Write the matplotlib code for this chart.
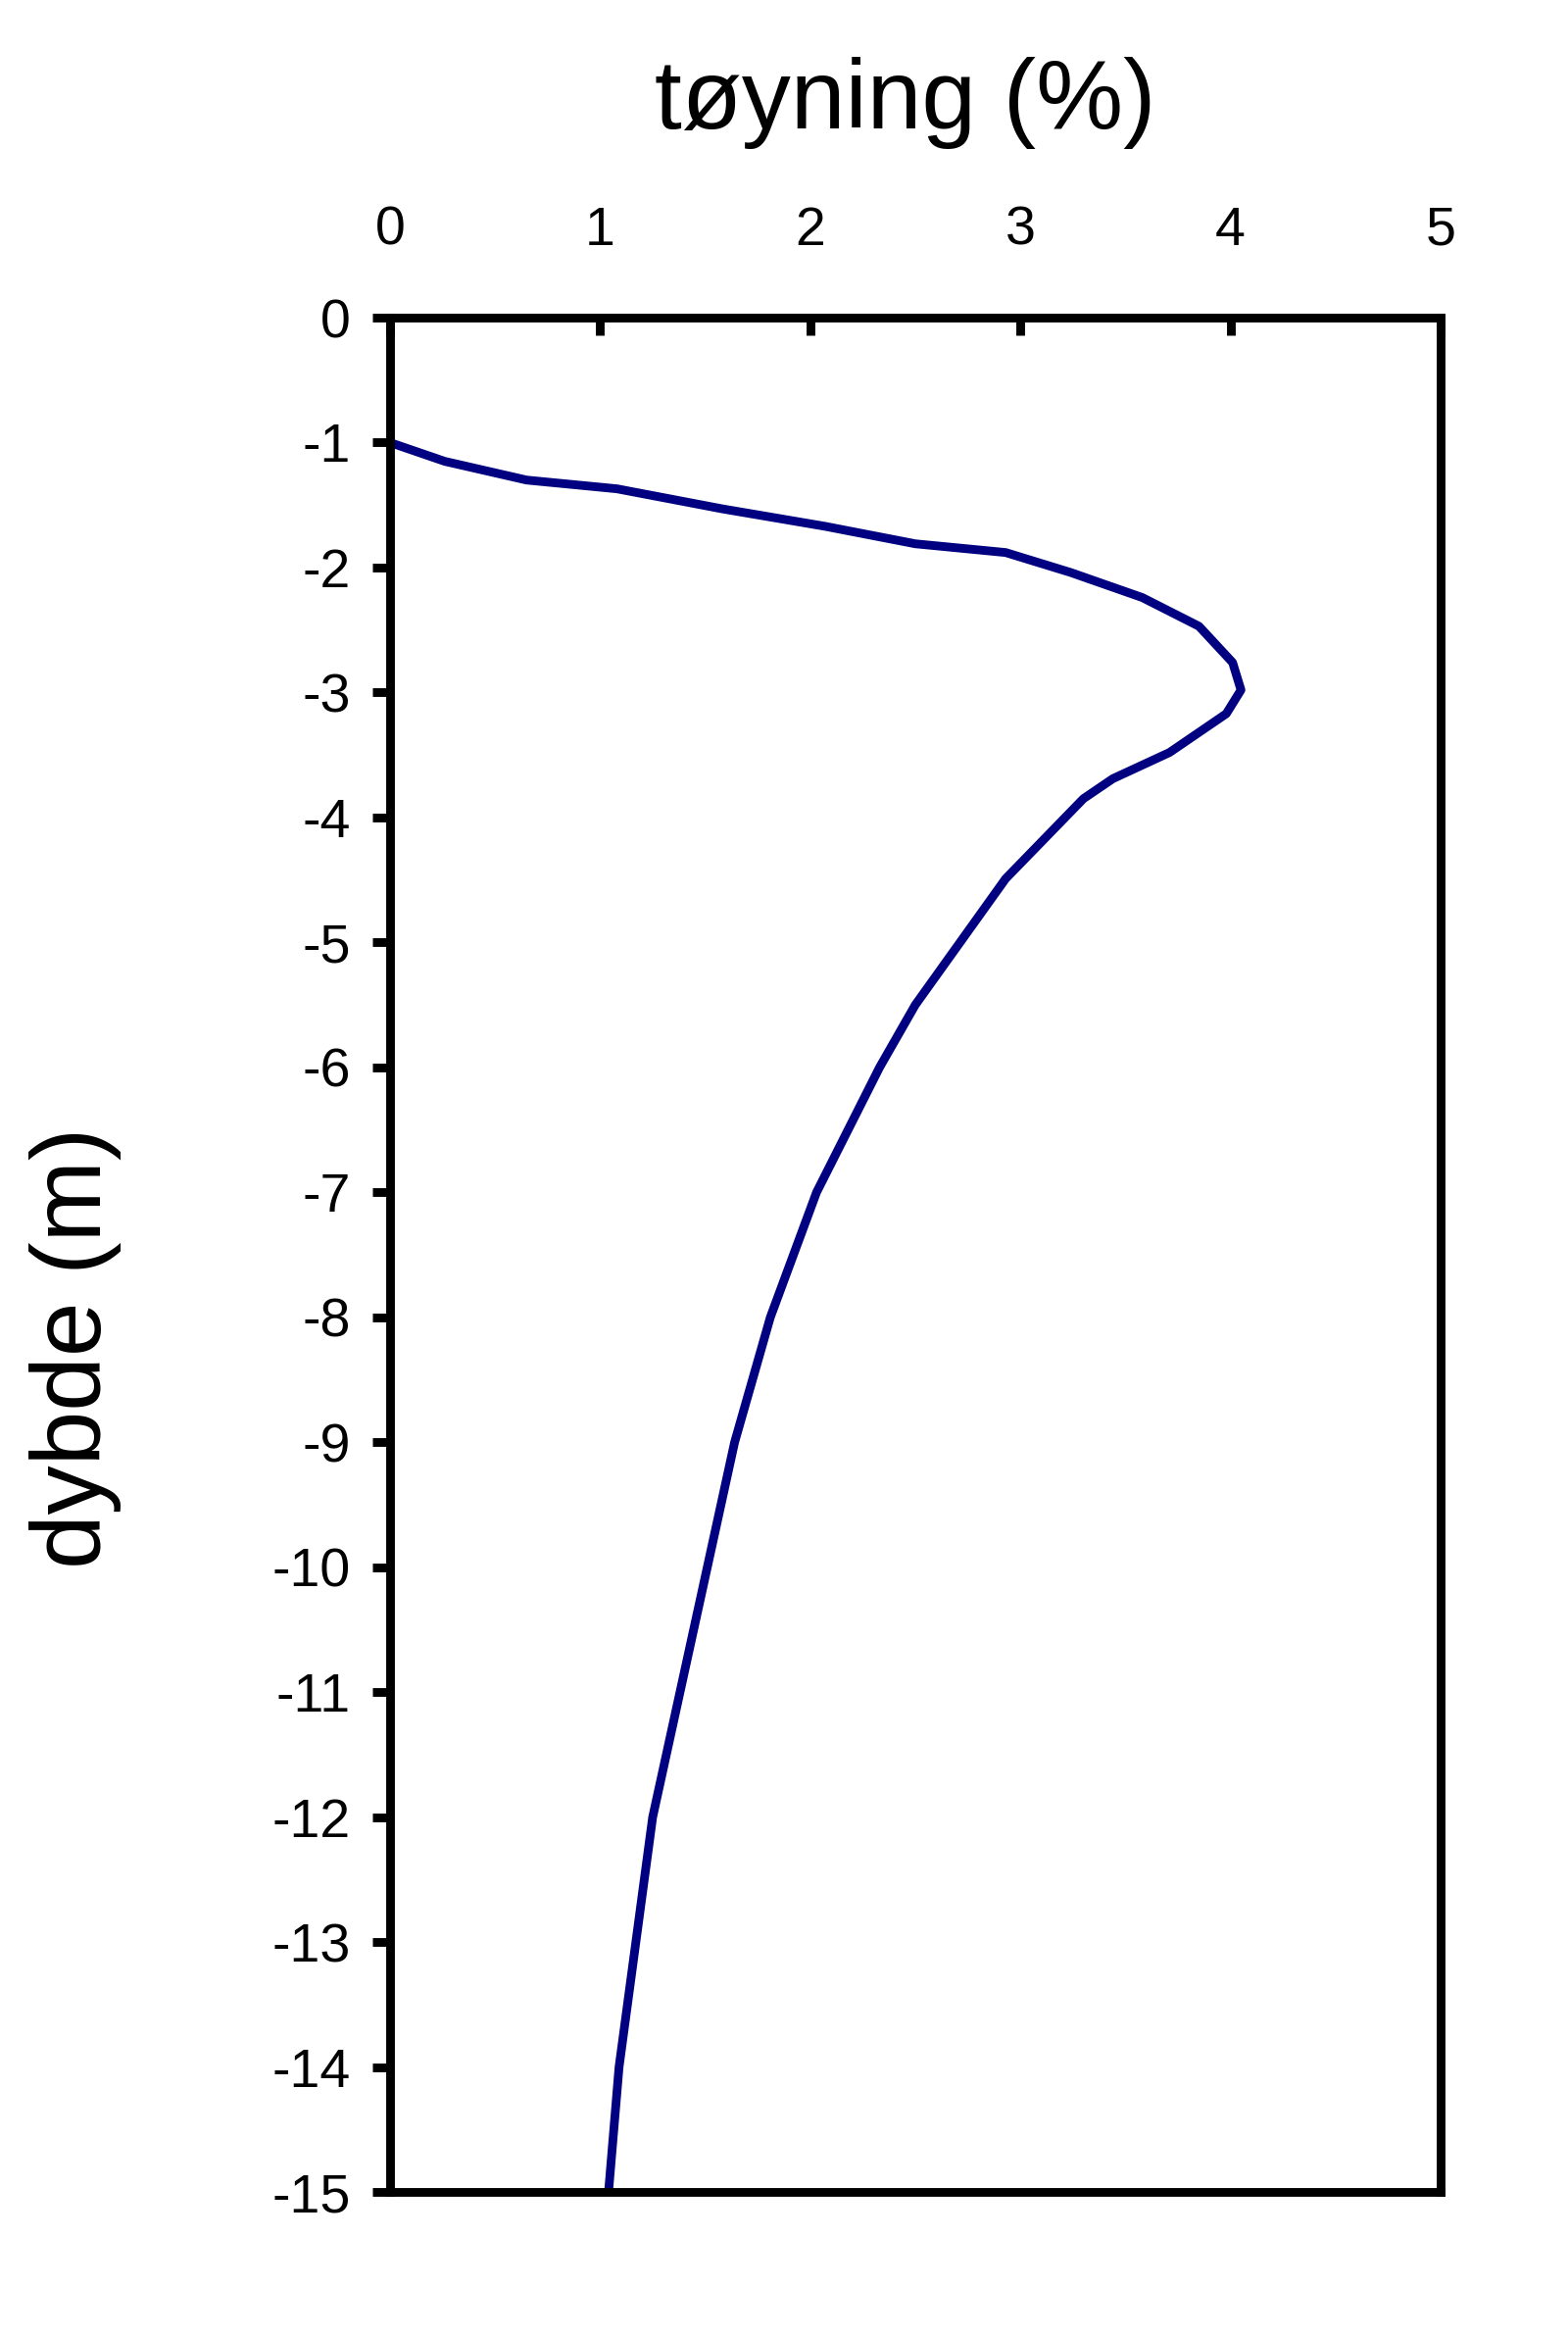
import matplotlib
matplotlib.use("Agg")
from matplotlib import pyplot as plt

plt.rcParams['font.family'] = ['Liberation Sans', 'DejaVu Sans']
plt.rcParams['axes.unicode_minus'] = False

# tøyning (%) mot dybde (m)
toyning = [0, 0.26, 0.65, 1.08, 1.58, 2.07, 2.50, 2.93, 3.24, 3.58, 3.85, 4.01,
           4.05, 3.98, 3.71, 3.44, 3.30, 2.93, 2.50, 2.33, 2.03, 1.81, 1.64,
           1.51, 1.38, 1.25, 1.17, 1.09, 1.04]
dybde = [-1, -1.15, -1.30, -1.37, -1.53, -1.67, -1.81, -1.88, -2.04, -2.24, -2.47,
         -2.76, -2.98, -3.17, -3.48, -3.69, -3.85, -4.49, -5.5, -6.0, -7.0, -8.0,
         -9.0, -10, -11, -12, -13, -14, -15]

x_ticks = [0, 1, 2, 3, 4, 5]
y_ticks = list(range(-15, 1))

fig = plt.figure(figsize=(8, 11.92), dpi=200)
ax = fig.add_axes([0.24875, 0.06208, 0.67, 0.80201])

ax.plot(toyning, dybde, color='#000080', linewidth=3.2)

ax.set_xlim(0, 5)
ax.set_ylim(-15, 0)
ax.set_xticks(x_ticks)
ax.set_yticks(y_ticks)

ax.xaxis.tick_top()
ax.xaxis.set_label_position('top')
ax.tick_params(axis='x', direction='in', length=6.5, width=3.2, pad=22.5,
               labelsize=20, top=True, bottom=False)
ax.tick_params(axis='y', direction='out', length=6.5, width=3.2, pad=8,
               labelsize=20, right=False)

for s in ax.spines.values():
    s.set_linewidth(3.2)

ax.set_xlabel('tøyning (%)', fontsize=36, va='center', ha='center')
ax.xaxis.set_label_coords(0.49, 1.1145)
ax.set_ylabel('dybde (m)', fontsize=36, va='center', ha='center')
ax.yaxis.set_label_coords(-0.2994, 0.4506)

plt.savefig('out.png', dpi=200)
